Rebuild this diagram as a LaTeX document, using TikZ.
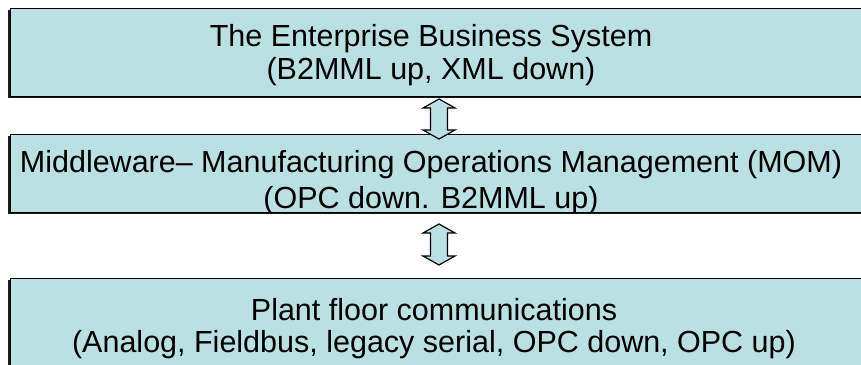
\documentclass[tikz,border=0pt]{standalone}
\usepackage{fontspec}
\setmainfont{Liberation Sans}
\usetikzlibrary{calc,shadows}
\definecolor{boxfill}{RGB}{187,224,227}
\begin{document}
\begin{tikzpicture}[x=1pt,y=-1pt,
  box/.style={draw=black, line width=0.8pt, fill=boxfill, anchor=north west,
    minimum width=870pt, inner sep=0pt,
    drop shadow={shadow xshift=-2pt, shadow yshift=-2pt, opacity=0.9, fill=black}},
  lbl/.style={anchor=base, inner sep=0pt, font=\fontsize{30.5}{34}\selectfont},
  dbl/.style={draw=black, line width=1.2pt, fill=boxfill, line join=miter}]
\useasboundingbox (0,0) rectangle (861,364);
% boxes
\node[box, minimum height=88pt] (ent) at (10,8) {};
\node[box, minimum height=78pt] (mom) at (10,134) {};
\node[box, minimum height=100pt] (plant) at (10,278) {};
% texts
\node[lbl] (ent1) at (431,46) {The Enterprise Business System};
\node[lbl] (ent2) at (431,79) {(B2MML up, XML down)};
\begin{scope}
  \clip (mom.north west) rectangle (mom.south east);
  \node[lbl] (mom1) at (431,172) {Middleware\textendash{} Manufacturing Operations Management (MOM)};
  \node[lbl] (mom2) at (431,208) {(OPC down. B2MML up)};
\end{scope}
\draw[line width=0.8pt] (mom.north west) rectangle (mom.south east);
\node[lbl] (pl1) at (434,320) {Plant floor communications};
\node[lbl] (pl2) at (434,352) {(Analog, Fieldbus, legacy serial, OPC down, OPC up)};
% arrows
\coordinate (a1t) at (439,99);
\coordinate (a1b) at (439,139);
\coordinate (a2t) at (439,224);
\coordinate (a2b) at (439,265);
\draw[dbl] (a1t) -- ++(16,9) -- ++(-7.5,0) -- ($(a1b)+(8.5,-9)$) -- ++(7.5,0)
  -- (a1b) -- ++(-16,-9) -- ++(7.5,0) -- ($(a1t)+(-8.5,9)$) -- ++(-7.5,0) -- cycle;
\draw[dbl] (a2t) -- ++(16,9) -- ++(-7.5,0) -- ($(a2b)+(8.5,-9)$) -- ++(7.5,0)
  -- (a2b) -- ++(-16,-9) -- ++(7.5,0) -- ($(a2t)+(-8.5,9)$) -- ++(-7.5,0) -- cycle;
\end{tikzpicture}
\end{document}
